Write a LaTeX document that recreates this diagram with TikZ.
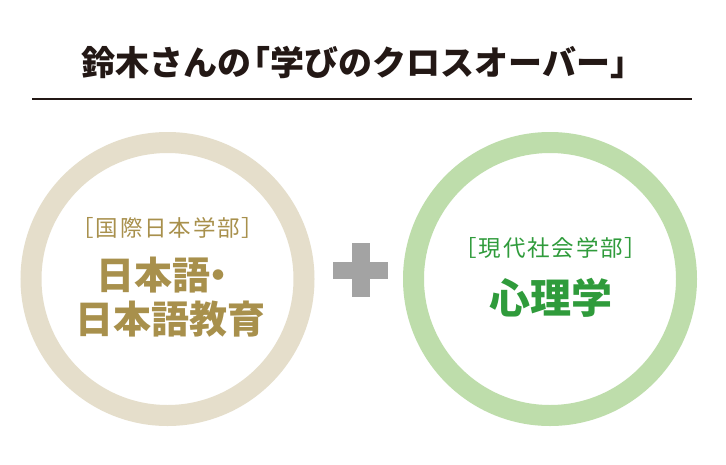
\documentclass[tikz,border=0pt]{standalone}
\usepackage{fontspec}
\newfontfamily\jp{Noto Sans CJK JP}
\newfontfamily\jpls{Noto Sans CJK JP}[LetterSpace=8]
\definecolor{beigering}{HTML}{E5DECB}
\definecolor{goldtext}{HTML}{A8904C}
\definecolor{greenring}{HTML}{BEDDAB}
\definecolor{greentext}{HTML}{2F9B3B}
\definecolor{plusgray}{HTML}{A3A3A3}
\definecolor{titlecol}{HTML}{231815}
\tikzset{
  ring/.style={circle, line width=21pt, minimum size=273pt, inner sep=0pt},
  bar/.style={fill=plusgray, inner sep=0pt, outer sep=0pt},
  dept/.style={font=\jpls\fontsize{22.5pt}{22.5pt}\selectfont, inner sep=0pt},
  major/.style={font=\jp\bfseries\fontsize{38pt}{38pt}\selectfont, inner sep=0pt},
}
\begin{document}
\begin{tikzpicture}[x=1pt,y=-1pt]
\useasboundingbox (0,0) rectangle (726,464);
\fill[white] (0,0) rectangle (726,464);
\node[font=\jp\bfseries\fontsize{34pt}{34pt}\selectfont, text=titlecol, inner sep=0pt] (title) at (363,62) {鈴木さんの\hspace{-0.45em}「学びのクロスオーバー」};
\coordinate (l1) at (32,99);
\coordinate (l2) at (692,99);
\draw[titlecol, line width=2.2pt] (l1) -- (l2);
\node[ring, draw=beigering] (left) at (167.5,279) {};
\node[ring, draw=greenring] (right) at (550,279) {};
\node[bar, minimum width=55pt, minimum height=17pt] (hbar) at (360.5,270.5) {};
\node[bar, minimum width=18pt, minimum height=54pt] (vbar) at (361,270) {};
\node[dept, text=goldtext] (ldept) at (168,228) {［国際日本学部］};
\node[major, text=goldtext] (lm1) at (167,275) {日本語\hspace{-0.3em}・\hspace{-0.3em}};
\node[major, text=goldtext] (lm2) at (170,319) {日本語教育};
\node[dept, text=greentext] (rdept) at (551,248) {［現代社会学部］};
\node[major, text=greentext, font=\jp\bfseries\fontsize{41pt}{41pt}\selectfont] (rm) at (551,298) {心理学};
\end{tikzpicture}
\end{document}
